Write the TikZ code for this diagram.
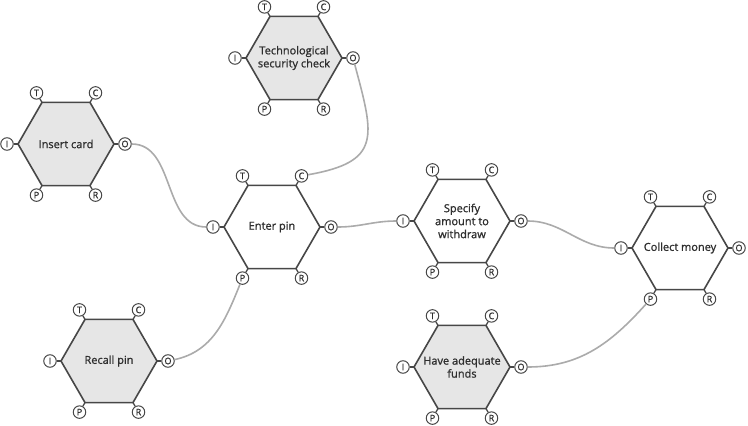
\documentclass[tikz,border=0pt]{standalone}
\usepackage{fontspec}
\setmainfont{Open Sans}
\newfontfamily\medfont{Open Sans}[BoldFont={Open Sans}, BoldFeatures={FakeBold=1.1}]
\usetikzlibrary{shapes.geometric,calc}

\definecolor{edgegray}{HTML}{474747}
\definecolor{fillgray}{HTML}{E6E6E6}
\definecolor{linkgray}{HTML}{ABABAB}
\definecolor{textgray}{HTML}{2E2E2E}

% one function: hexagon, label and its six aspects
\newcommand{\framfn}[5]{%
  \node[hexa, #4] (#1) at (#2,#3) {};
  \node[txt] (#1-txt) at (#1) {#5};
  \foreach \a/\l in {0/O,60/C,120/T,180/I,240/P,300/R}{
    \node[aspect] (#1-\l) at ($(#1)+(\a:59)$) {\l};
    \draw[stub] ($(#1)+(\a:48)$) -- (#1-\l);
  }
}

\begin{document}
\begin{tikzpicture}[
    x=1pt, y=1pt,
    hexa/.style={regular polygon, regular polygon sides=6, minimum size=96pt, inner sep=0pt, draw=edgegray, line width=1.6pt},
    grayfn/.style={fill=fillgray},
    whitefn/.style={fill=white},
    txt/.style={align=center, text=textgray, font=\medfont\bfseries\fontsize{11}{13}\selectfont},
    aspect/.style={circle, draw=edgegray, line width=1pt, fill=white, inner sep=0pt, minimum size=12.5pt, text=textgray, font=\medfont\bfseries\fontsize{9}{9}\selectfont},
    stub/.style={draw=edgegray, line width=1.3pt},
    link/.style={draw=linkgray, line width=1.6pt}
]
\useasboundingbox (0,0) rectangle (748,-426);

% Functions
\framfn{ins}{66}{-144}{grayfn}{Insert card}
\framfn{tec}{294}{-58}{grayfn}{Technological\\security check}
\framfn{ent}{272}{-227}{whitefn}{Enter pin}
\framfn{spe}{462}{-221}{whitefn}{Specify\\amount to\\withdraw}
\framfn{col}{680}{-248}{whitefn}{Collect money}
\framfn{rec}{109}{-361}{grayfn}{Recall pin}
\framfn{hav}{462}{-367}{grayfn}{Have adequate\\funds}

% Couplings
\draw[link] (ins-O) to[out=0, in=180] (ent-I);
\draw[link] (tec-O) to[out=-75, in=10, looseness=1.6] (ent-C);
\draw[link] (ent-O) to[out=0, in=180] (spe-I);
\draw[link] (rec-O) to[out=12, in=-112] (ent-P);
\draw[link] (spe-O) to[out=0, in=180] (col-I);
\draw[link] (hav-O) to[out=0, in=-132] (col-P);

\end{tikzpicture}
\end{document}
